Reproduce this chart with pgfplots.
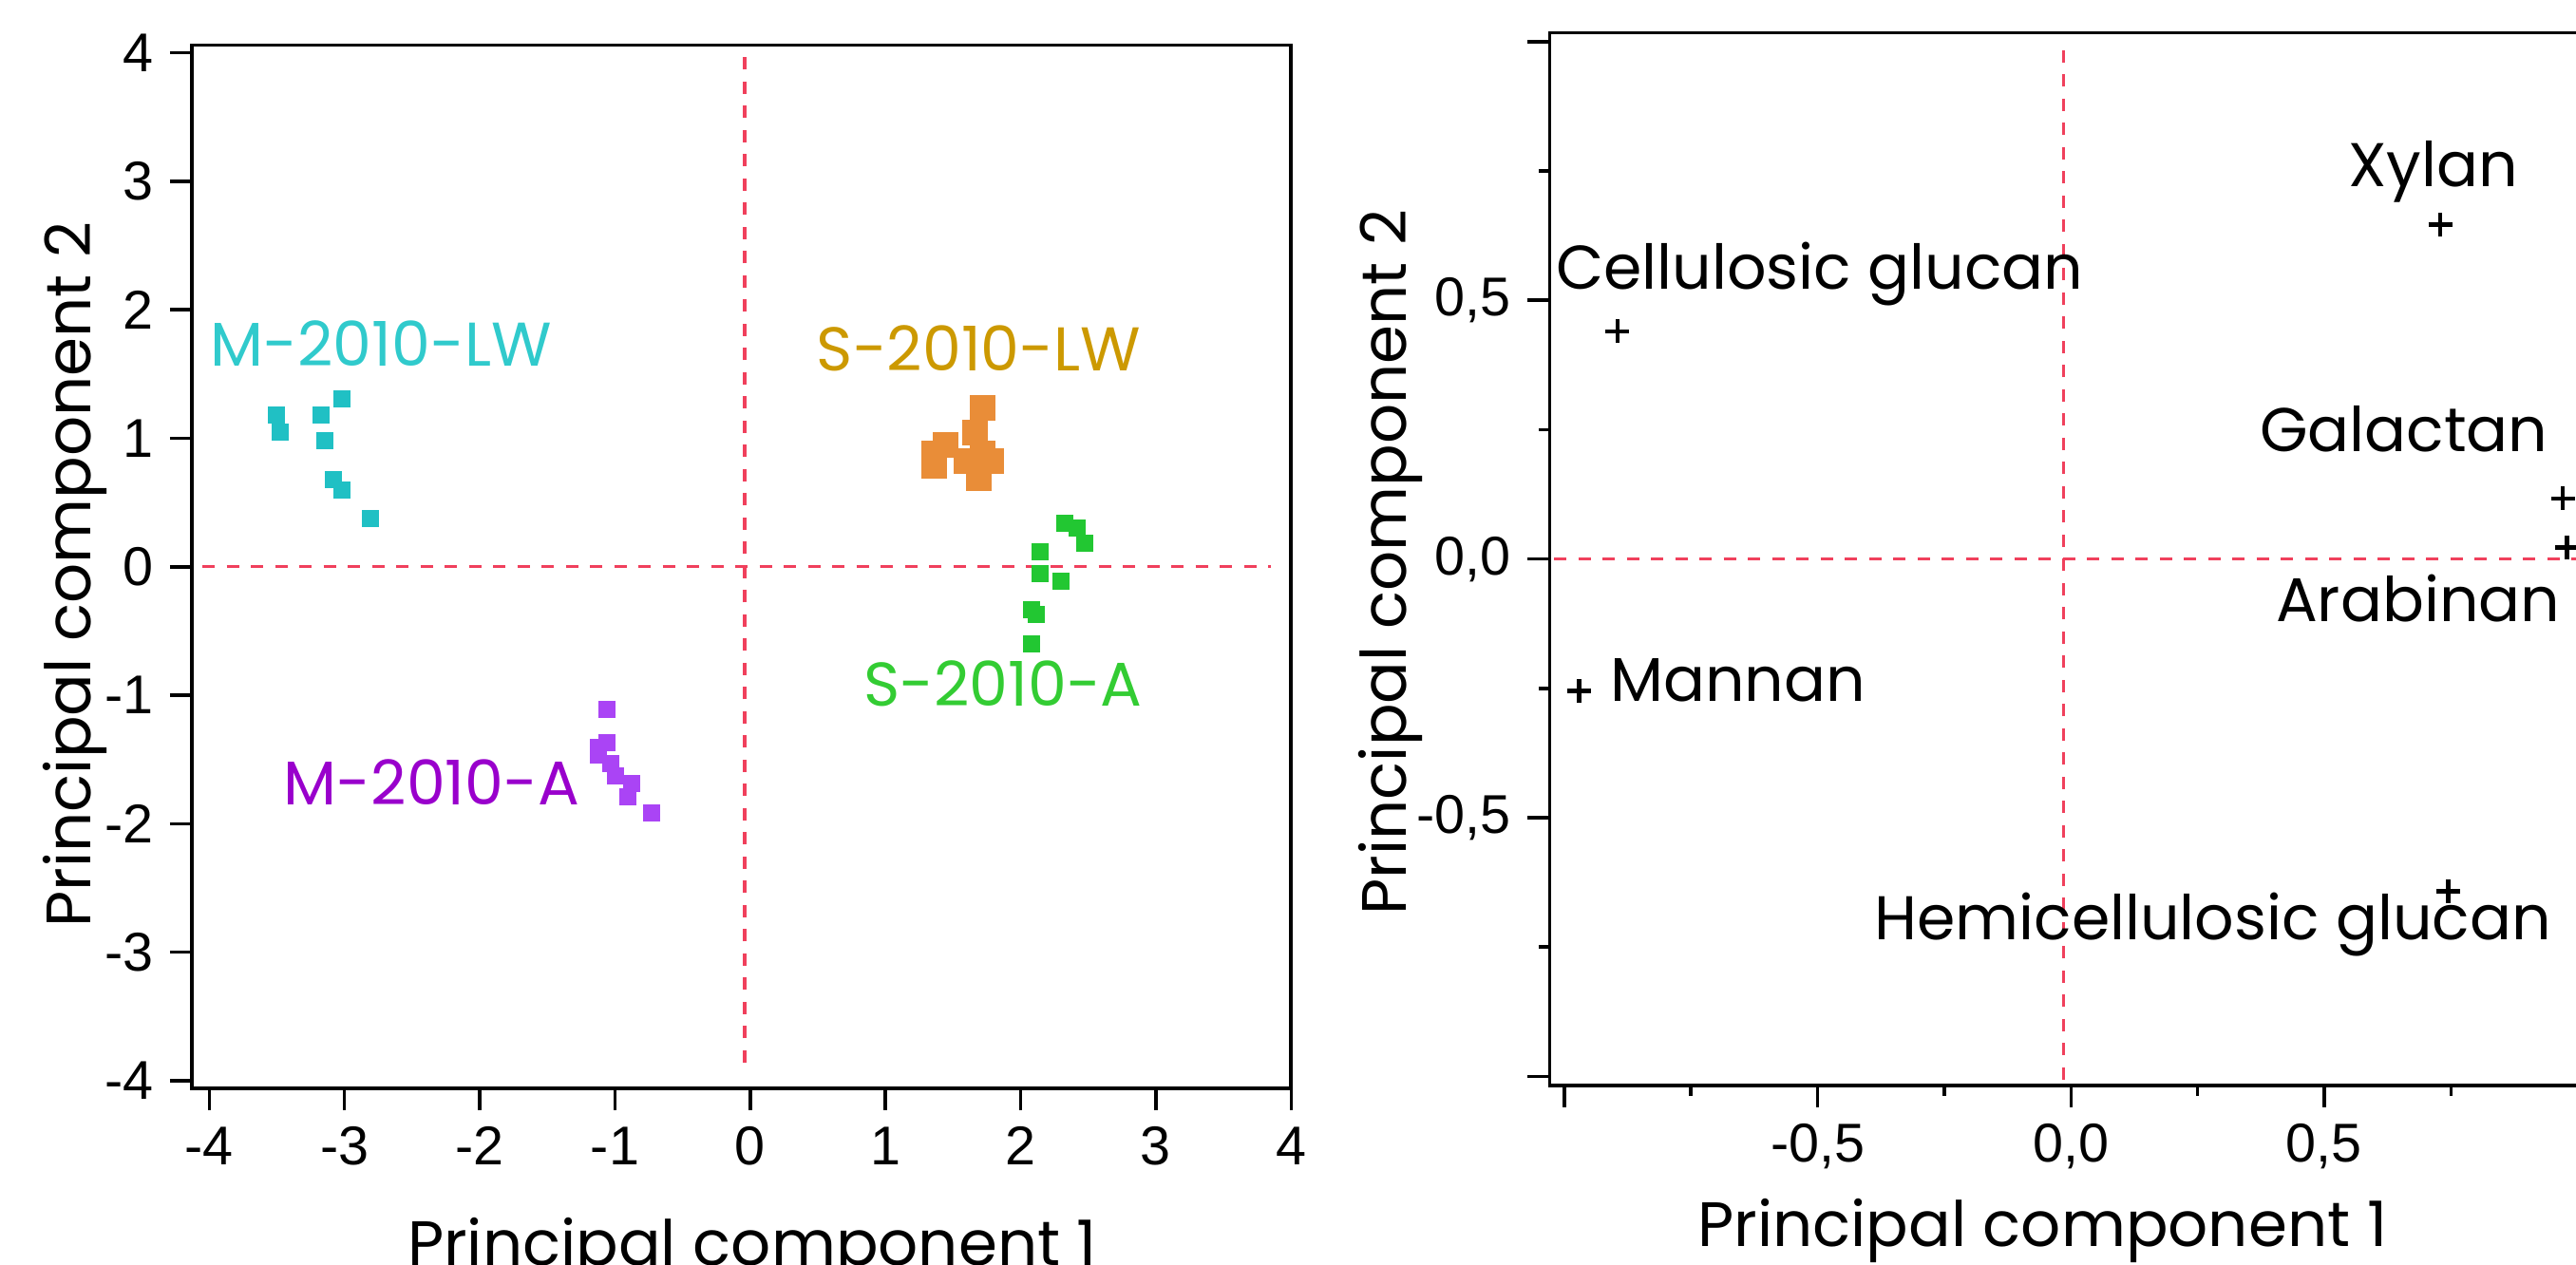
\documentclass[border=0pt]{standalone}
\usepackage{fontspec}
\setmainfont{Poppins}
\newfontfamily\tickfont{Liberation Sans}
\usepackage{pgfplots}
\pgfplotsset{compat=1.18}
\definecolor{tealsq}{HTML}{20C0C4}
\definecolor{tealtx}{HTML}{30CACC}
\definecolor{orsq}{HTML}{E98D38}
\definecolor{ortx}{HTML}{CC9900}
\definecolor{grsq}{HTML}{22C732}
\definecolor{grtx}{HTML}{33CC33}
\definecolor{pusq}{HTML}{AA44F5}
\definecolor{putx}{HTML}{9900CC}
\definecolor{dashred}{HTML}{F0405C}
\tikzset{lab/.style={font=\fontsize{13}{15}\selectfont, anchor=base, inner sep=0pt}}
\begin{document}
\begin{tikzpicture}
\pgfplotsset{
  pcaaxis/.style={
    scale only axis,
    axis line style={line width=0.75pt},
    tick align=outside,
    tick pos=left,
    major tick length=4.6pt,
    minor tick length=2.3pt,
    major tick style={black, line width=0.7pt},
    minor tick style={black, line width=0.7pt},
    ticklabel style={font=\fontsize{11.5}{13}\selectfont\tickfont},
    /pgf/number format/assume math mode=true,
    label style={font=\fontsize{13.2}{15}\selectfont},
    clip=false,
  },
  refline/.style={draw=dashred, line width=0.65pt, dash pattern=on 2.6pt off 2.5pt, forget plot},
}
% ---------------- left panel: scores ----------------
\begin{axis}[pcaaxis,
  at={(40.36pt,37pt)}, anchor=south west,
  width=231.5pt, height=219.7pt,
  xmin=-4.13, xmax=4.0, ymin=-4.06, ymax=4.06,
  xtick={-4,-3,...,4}, ytick={-4,-3,...,4},
  xlabel={Principal component 1}, ylabel={Principal component 2},
  xlabel style={at={(axis description cs:0.51,0)}, anchor=base, yshift=-37.2pt},
  ylabel style={at={(axis description cs:-0.0916,0.4925)}, anchor=base},
]
\addplot[refline] coordinates {(-4.05,0) (3.85,0)};
\addplot[refline] coordinates {(-0.04,-3.86) (-0.04,3.99)};
% M-2010-LW
\addplot[only marks, mark=square*, mark size=1.7pt, mark options={draw=tealsq, fill=tealsq, line width=0.2pt}] coordinates {
(-3.503,1.180) (-3.477,1.047) (-3.173,1.180) (-3.018,1.308)
(-3.143,0.985) (-3.081,0.680) (-3.018,0.596) (-2.808,0.372)};
% S-2010-LW
\addplot[only marks, mark=square*, mark size=2.6pt, mark options={draw=orsq, fill=orsq, line width=0.2pt}] coordinates {
(1.720,1.239) (1.664,1.047) (1.720,0.882) (1.783,0.820) (1.600,0.820)
(1.689,0.692) (1.448,0.951) (1.359,0.882) (1.359,0.788)};
% S-2010-A
\addplot[only marks, mark=square*, mark size=1.7pt, mark options={draw=grsq, fill=grsq, line width=0.2pt}] coordinates {
(2.326,0.340) (2.417,0.303) (2.473,0.180) (2.143,0.113) (2.143,-0.050)
(2.296,-0.114) (2.080,-0.335) (2.115,-0.372) (2.080,-0.599)};
% M-2010-A
\addplot[only marks, mark=square*, mark size=1.7pt, mark options={draw=pusq, fill=pusq, line width=0.2pt}] coordinates {
(-1.059,-1.109) (-1.059,-1.367) (-1.122,-1.404) (-1.122,-1.466) (-1.029,-1.530)
(-0.996,-1.629) (-0.876,-1.690) (-0.905,-1.787) (-0.727,-1.914)};
\node[lab, text=tealtx] at (axis cs:-2.730,1.562) {M-2010-LW};
\node[lab, text=ortx] at (axis cs:1.690,1.528) {S-2010-LW};
\node[lab, text=grtx] at (axis cs:1.870,-1.088) {S-2010-A};
\node[lab, text=putx] at (axis cs:-2.355,-1.855) {M-2010-A};
\end{axis}
% ---------------- right panel: loadings ----------------
\begin{axis}[pcaaxis,
  at={(326.28pt,37.68pt)}, anchor=south west,
  width=217.5pt, height=221.6pt,
  xmin=-1.029, xmax=1.01, ymin=-1.017, ymax=1.017,
  xtick={-1,-0.5,0,0.5,1}, xticklabels={,{-0,5},{0,0},{0,5},},
  ytick={-1,-0.5,0,0.5,1}, yticklabels={,{-0,5},{0,0},{0,5},},
  minor xtick={-0.75,-0.25,0.25,0.75}, minor ytick={-0.75,-0.25,0.25,0.75},
  xlabel={Principal component 1}, ylabel={Principal component 2},
  xlabel style={at={(axis description cs:0.477,0)}, anchor=base, yshift=-33.9pt},
  ylabel style={at={(axis description cs:-0.139,0.497)}, anchor=base},
]
\addplot[refline] coordinates {(-1.02,0) (1.01,0)};
\addplot[refline] coordinates {(-0.0146,-1.006) (-0.0146,0.995)};
\addplot[only marks, mark=+, mark size=2.5pt, mark options={black, line width=0.9pt}] coordinates {
(0.729,0.646) (-0.895,0.440) (0.971,0.117) (0.979,0.022) (-0.971,-0.255) (0.745,-0.642)};
\node[lab] at (axis cs:0.715,0.720) {Xylan};
\node[lab] at (axis cs:-0.496,0.521) {Cellulosic glucan};
\node[lab] at (axis cs:0.657,0.208) {Galactan};
\node[lab] at (axis cs:0.685,-0.1205) {Arabinan};
\node[lab, anchor=base west] at (axis cs:-0.911,-0.275) {Mannan};
\node[lab] at (axis cs:0.280,-0.7355) {Hemicellulosic glucan};
\end{axis}
\pgfresetboundingbox
\useasboundingbox (0,0) rectangle (542.4pt,266.2pt);
\end{tikzpicture}
\end{document}
